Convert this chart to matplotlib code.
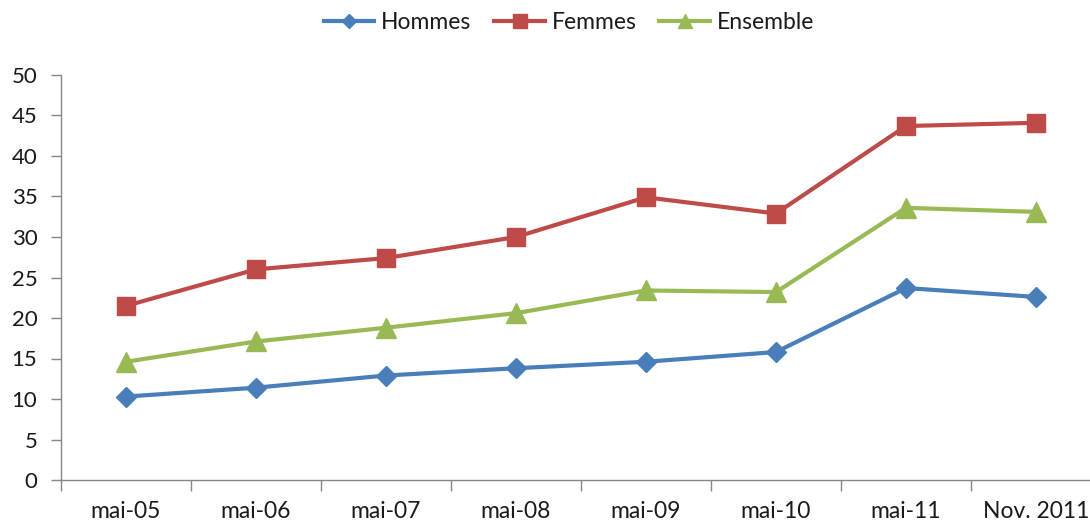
import matplotlib
matplotlib.use("Agg")
import matplotlib.pyplot as plt
import numpy as np

# Données
categories = ["mai-05", "mai-06", "mai-07", "mai-08", "mai-09", "mai-10", "mai-11", "Nov. 2011"]
hommes = [10.3, 11.4, 12.9, 13.8, 14.6, 15.8, 23.7, 22.6]
femmes = [21.5, 26.0, 27.4, 30.0, 34.9, 32.9, 43.7, 44.1]
ensemble = [14.6, 17.1, 18.8, 20.6, 23.4, 23.2, 33.6, 33.1]

plt.rcParams['font.family'] = ['Lato', 'DejaVu Sans']

fig = plt.figure(figsize=(10.9, 5.25), dpi=100)
ax = fig.add_axes([61 / 1090, 45 / 525, 1040 / 1090, 405 / 525])

x = np.arange(len(categories))
ax.plot(x, hommes, color='#4A7EBB', lw=3, marker='D', ms=10, label='Hommes')
ax.plot(x, femmes, color='#BE4B48', lw=3, marker='s', ms=13, label='Femmes')
ax.plot(x, ensemble, color='#98B954', lw=3, marker='^', ms=14, label='Ensemble')

ax.set_xlim(-0.5, len(categories) - 0.5)
ax.set_ylim(0, 50)
ax.set_yticks(range(0, 51, 5))

# ticks de catégories : marques entre les catégories, étiquettes au centre
ax.set_xticks(x)
ax.set_xticklabels(categories)
ax.set_xticks(np.arange(-0.5, len(categories), 1), minor=True)
ax.tick_params(axis='x', which='major', length=0, pad=15, labelsize=16.5, colors='#1a1a1a')
ax.tick_params(axis='x', which='minor', length=8, width=1, color='#868686', direction='out')
ax.tick_params(axis='y', length=7, width=1, color='#868686', direction='out', pad=10, labelsize=16, labelcolor='#1a1a1a')

for s in ['top', 'right']:
    ax.spines[s].set_visible(False)
for s in ['left', 'bottom']:
    ax.spines[s].set_color('#868686')
    ax.spines[s].set_linewidth(1)

leg = fig.legend(loc='center', bbox_to_anchor=(0.522, 0.958), ncol=3, frameon=False,
                 fontsize=16.5, handlelength=2.2, handletextpad=0.3, columnspacing=1.0,
                 markerscale=0.75)
for t in leg.get_texts():
    t.set_color('#1a1a1a')

fig.savefig('out.png', dpi=100)
